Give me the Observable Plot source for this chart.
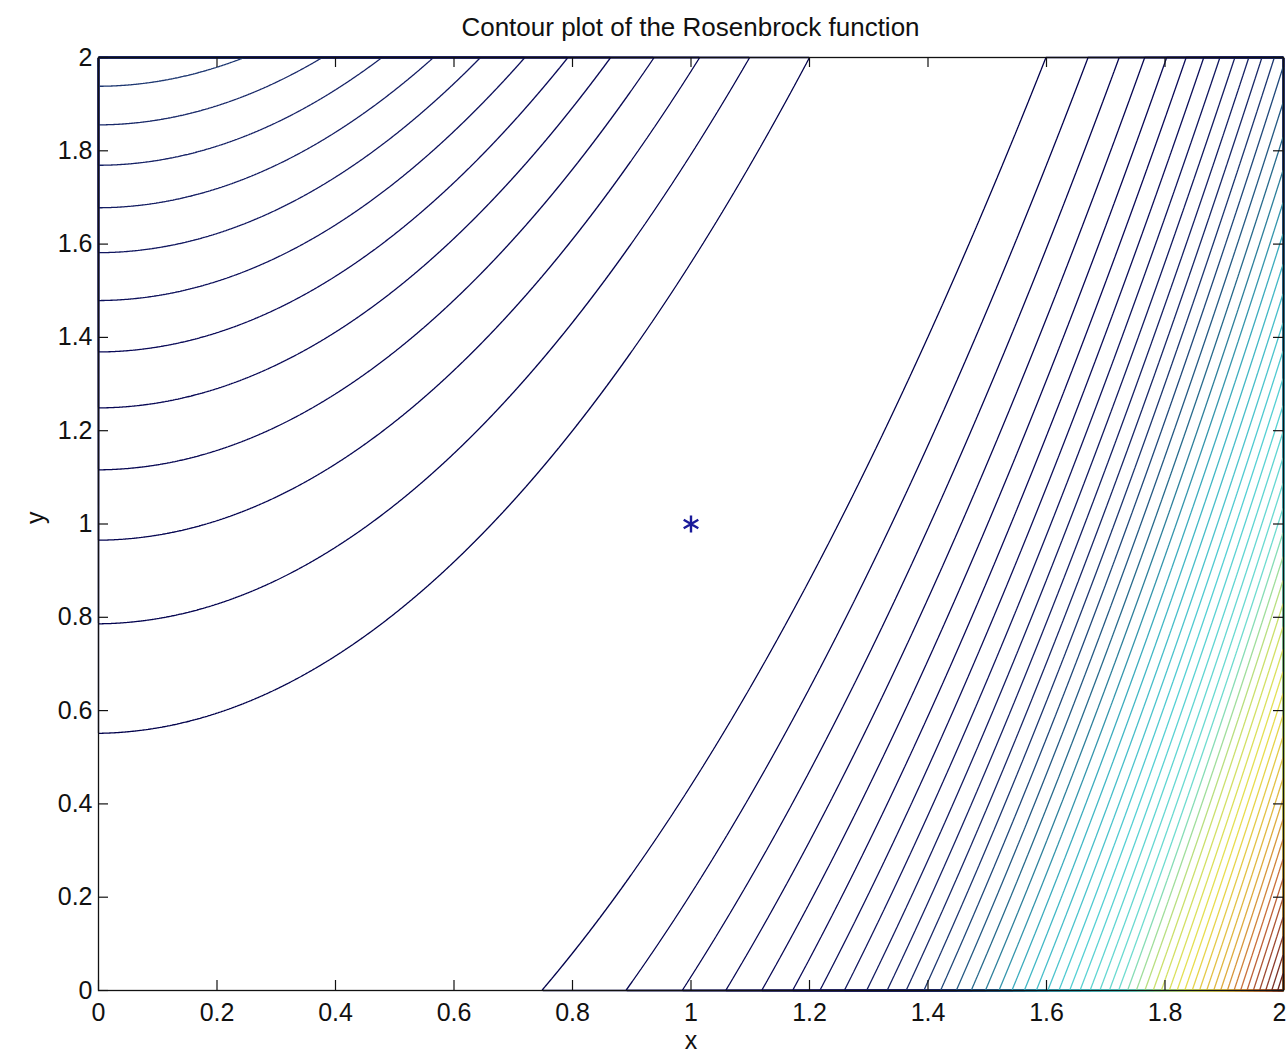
<!DOCTYPE html>
<html>
<head>
<meta charset="utf-8">
<script src="https://cdn.jsdelivr.net/npm/d3@7"></script>
<script src="https://cdn.jsdelivr.net/npm/@observablehq/plot@0.6"></script>
<style>
  html, body { margin: 0; padding: 0; background: #fff; }
  #wrap { width: 1287px; height: 1055px; position: relative; font-family: "Liberation Sans", Arial, sans-serif; overflow: hidden; }
  #title { position: absolute; left: 98px; width: 1185px; top: 12px; text-align: center; font-size: 26px; color: #111; line-height: 30px; }
  #chart { position: absolute; left: 0; top: 45px; }
  #chart svg { overflow: visible; }
</style>
</head>
<body>
<div id="wrap">
  <div id="title">Contour plot of the Rosenbrock function</div>
  <div id="chart"></div>
</div>
<script>
// Rosenbrock function parameters: f(x, y) = b (y - x^2)^2 + (a - x)^2
const rosenA = 1;
const rosenB = 100;
// Domain of the plot
const xDomain = [0, 2];
const yDomain = [0, 2];
// Contour levels: MATLAB-style evenly spaced levels between min and max of the surface
const zMin = 0;
const zMax = 1601;
const levelCount = 50;
// Tick labels
const xTicks = [0, 0.2, 0.4, 0.6, 0.8, 1, 1.2, 1.4, 1.6, 1.8, 2];
const yTicks = [0, 0.2, 0.4, 0.6, 0.8, 1, 1.2, 1.4, 1.6, 1.8, 2];
// Marked minimum
const minimumPoint = [{x: 1, y: 1}];
// Line colours (jet-like, as photographed): fraction of range -> colour
const colorStops = [0, 0.12, 0.22, 0.3, 0.36, 0.45, 0.55, 0.62, 0.7, 0.8, 0.87, 0.94, 1];
const colorValues = ["#00004a", "#0a0a58", "#1a2a6a", "#2a7090", "#40b4c4", "#56d0d4", "#70dcd0", "#c8e070", "#e8e050", "#e0b040", "#c86a3a", "#904030", "#5a1a1a"];

const rosenbrock = (x, y) => rosenB * (y - x * x) ** 2 + (rosenA - x) ** 2;
const step = (zMax - zMin) / (levelCount + 1);
const thresholds = d3.range(1, levelCount + 1).map(k => zMin + k * step);

const W = 1287, H = 1010;
const mL = 98, mR = 4, mT = 12, mB = 65;
const plotW = W - mL - mR, plotH = H - mT - mB;
const tickLen = 10;
const lastX = xTicks[xTicks.length - 1];

const chart = Plot.plot({
  width: W,
  height: H,
  marginLeft: mL,
  marginRight: mR,
  marginTop: mT,
  marginBottom: mB,
  style: {fontFamily: "'Liberation Sans', Arial, sans-serif", fontSize: "25px", color: "#111", background: "#fff", overflow: "visible"},
  x: {domain: xDomain, label: null},
  y: {domain: yDomain, label: null},
  color: {type: "linear", domain: colorStops.map(t => zMin + t * (zMax - zMin)), range: colorValues},
  marks: [
    Plot.contour({
      x1: xDomain[0], y1: yDomain[0], x2: xDomain[1], y2: yDomain[1],
      value: rosenbrock,
      thresholds,
      fill: "none",
      stroke: "value",
      strokeWidth: 1.3,
      pixelSize: 1
    }),
    Plot.dot(minimumPoint, {x: "x", y: "y", symbol: "asterisk", r: 8, stroke: "#1a1a9a", strokeWidth: 2.4}),
    // inward ticks on all four sides
    Plot.tickX(xTicks, {x: d => d, insetTop: plotH - tickLen, stroke: "#111", strokeWidth: 1.2}),
    Plot.tickX(xTicks, {x: d => d, insetBottom: plotH - tickLen, stroke: "#111", strokeWidth: 1.2}),
    Plot.tickY(yTicks, {y: d => d, insetRight: plotW - tickLen, stroke: "#111", strokeWidth: 1.2}),
    Plot.tickY(yTicks, {y: d => d, insetLeft: plotW - tickLen, stroke: "#111", strokeWidth: 1.2}),
    Plot.frame({stroke: "#111", strokeWidth: 1.3}),
    Plot.axisX({ticks: xTicks.slice(0, -1), tickSize: 0, tickPadding: 13, label: null, fontSize: 25, tickFormat: d => String(d)}),
    Plot.axisX({ticks: [lastX], tickSize: 0, tickPadding: 13, label: null, fontSize: 25, dx: -4, tickFormat: d => String(d)}),
    Plot.axisY({ticks: yTicks, tickSize: 0, tickPadding: 6, label: null, fontSize: 25, tickFormat: d => String(d)}),
    Plot.text(["x"], {frameAnchor: "bottom", dy: 58, fontSize: 25, fill: "#111"}),
    Plot.text(["y"], {frameAnchor: "left", dx: -63, rotate: -90, fontSize: 25, fill: "#111"})
  ]
});
document.getElementById("chart").appendChild(chart);
</script>
</body>
</html>
